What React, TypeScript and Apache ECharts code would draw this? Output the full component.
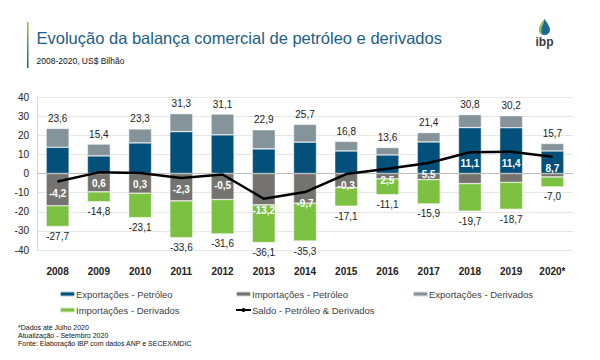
import React, { useEffect, useRef } from "react";
import * as echarts from "echarts";

const years = ["2008", "2009", "2010", "2011", "2012", "2013", "2014", "2015", "2016", "2017", "2018", "2019", "2020*"];
const expPetroleo = [13.7, 9.2, 16.0, 21.9, 20.2, 12.9, 16.4, 11.8, 9.7, 16.5, 24.0, 23.9, 11.8];
const expDerivados = [9.9, 6.2, 7.3, 9.4, 10.9, 10.0, 9.3, 5.0, 3.9, 4.9, 6.8, 6.3, 3.9];
const impPetroleo = [-16.9, -9.6, -10.3, -14.3, -13.6, -16.4, -15.5, -7.4, -2.8, -3.2, -5.3, -4.6, -1.8];
const impDerivados = [-10.8, -5.2, -12.8, -19.3, -18.0, -19.7, -19.8, -9.7, -8.3, -12.7, -14.4, -14.1, -5.2];
const saldo = [-4.2, 0.6, 0.3, -2.3, -0.5, -13.2, -9.7, -0.3, 2.5, 5.5, 11.1, 11.4, 8.7];
const expTotalLabels = [23.6, 15.4, 23.3, 31.3, 31.1, 22.9, 25.7, 16.8, 13.6, 21.4, 30.8, 30.2, 15.7];
const impTotalLabels = [-27.7, -14.8, -23.1, -33.6, -31.6, -36.1, -35.3, -17.1, -11.1, -15.9, -19.7, -18.7, -7.0];
const yTicks = { min: -40, max: 40, interval: 10 };

const fmt = (v: number) => v.toFixed(1).replace(".", ",");
const SANS = "'Liberation Sans', Arial, sans-serif";

const C_EXP_P = "#03507a";
const C_EXP_D = "#84949a";
const C_IMP_P = "#74736f";
const C_IMP_D = "#7dc142";
const TITLE_C = "#1b5e86";

const DROP = "M6 0 C6 0 0 8 0 12 A6 6 0 0 0 12 12 C12 8 6 0 6 0 Z";
const CRESCENT = "M6 0 C6 0 0 8 0 12 C0 15 2 17.5 5 18 C2.5 16 2 13 3 10 C4 7 6 3 6 0 Z";

export default function App() {
  const ref = useRef<HTMLDivElement>(null);
  useEffect(() => {
    if (!ref.current) return;
    try {
      echarts.graphic.registerShape("drop", echarts.graphic.extendPath(DROP, {}) as any);
      echarts.graphic.registerShape("crescent", echarts.graphic.extendPath(CRESCENT, {}) as any);
    } catch (e) {}
    const chart = echarts.init(ref.current, undefined, { renderer: "svg" });
    const legendCommon = {
      itemWidth: 15,
      itemHeight: 5,
      padding: 0,
      selectedMode: false,
      textStyle: { fontSize: 9.5, color: "#404040", fontFamily: SANS, padding: [0, 0, 0, -4] },
    };
    const barCommon = {
      type: "bar",
      stack: "total",
      barWidth: 23,
      itemStyle: { borderColor: "rgba(255,255,255,0.7)", borderWidth: 0.6 },
    };
    chart.setOption({
      animation: false,
      backgroundColor: "#fff",
      grid: { left: 37, top: 97, width: 536, height: 153 },
      legend: [
        { ...legendCommon, data: ["Exportações - Petróleo"], left: 59, top: 289 },
        { ...legendCommon, data: ["Importações - Petróleo"], left: 235, top: 289 },
        { ...legendCommon, data: ["Exportações - Derivados"], left: 412, top: 289 },
        { ...legendCommon, data: ["Importações - Derivados"], left: 59, top: 305 },
        { ...legendCommon, data: ["Saldo - Petróleo & Derivados"], left: 235, top: 305 },
      ],
      xAxis: {
        type: "category",
        data: years,
        axisLine: { show: false, onZero: false },
        axisTick: { show: false },
        axisLabel: { fontSize: 10, fontWeight: "bold", color: "#222", fontFamily: SANS, margin: 16 },
      },
      yAxis: {
        type: "value",
        min: yTicks.min,
        max: yTicks.max,
        interval: yTicks.interval,
        axisLine: { show: true, lineStyle: { color: "#d9d9d9" } },
        axisTick: { show: false },
        splitLine: { lineStyle: { color: "#e6e6e6" } },
        axisLabel: { fontSize: 10, color: "#222", fontFamily: SANS, margin: 8 },
      },
      series: [
        {
          ...barCommon,
          name: "Exportações - Petróleo",
          data: expPetroleo,
          itemStyle: { ...barCommon.itemStyle, color: C_EXP_P },
          markLine: {
            silent: true,
            symbol: "none",
            label: { show: false },
            lineStyle: { color: "#bdbdbd", width: 1, type: "solid" },
            data: [{ yAxis: 0 }],
          },
        },
        {
          ...barCommon,
          name: "Importações - Petróleo",
          data: impPetroleo,
          itemStyle: { ...barCommon.itemStyle, color: C_IMP_P },
        },
        {
          ...barCommon,
          name: "Exportações - Derivados",
          data: expDerivados,
          itemStyle: { ...barCommon.itemStyle, color: C_EXP_D },
          label: {
            show: true,
            position: "top",
            distance: 5,
            fontSize: 10,
            color: "#222",
            fontFamily: SANS,
            formatter: (p: any) => fmt(expTotalLabels[p.dataIndex]),
          },
        },
        {
          ...barCommon,
          name: "Importações - Derivados",
          data: impDerivados,
          itemStyle: { ...barCommon.itemStyle, color: C_IMP_D },
          label: {
            show: true,
            position: "bottom",
            distance: 5,
            fontSize: 10,
            color: "#222",
            fontFamily: SANS,
            formatter: (p: any) => fmt(impTotalLabels[p.dataIndex]),
          },
        },
        {
          type: "line",
          name: "Saldo - Petróleo & Derivados",
          data: saldo,
          symbol: "circle",
          symbolSize: 1,
          showSymbol: true,
          z: 5,
          lineStyle: { color: "#000", width: 2.5 },
          itemStyle: { color: "#000" },
          label: {
            show: true,
            position: "bottom",
            distance: 6,
            fontSize: 10,
            fontWeight: "bold",
            color: "#fff",
            textBorderWidth: 0,
            textBorderColor: "transparent",
            fontFamily: SANS,
            formatter: (p: any) => fmt(saldo[p.dataIndex]),
          },
        },
      ],
      graphic: [
        {
          type: "rect",
          shape: { x: 27, y: 22, width: 1.5, height: 46 },
          style: {
            fill: new echarts.graphic.LinearGradient(0, 0, 0, 1, [
              { offset: 0, color: "#8dc63f" },
              { offset: 1, color: TITLE_C },
            ]),
          },
        },
        {
          type: "text",
          x: 36.5,
          y: 37.5,
          style: {
            text: "Evolução da balança comercial de petróleo e derivados",
            font: `16.5px ${SANS}`,
            fill: TITLE_C,
            verticalAlign: "middle",
          },
        },
        {
          type: "text",
          x: 36.5,
          y: 60.5,
          style: {
            text: "2008-2020, US$ Bilhão",
            font: `8.5px ${SANS}`,
            fill: "#111",
            verticalAlign: "middle",
          },
        },
        {
          type: "text",
          x: 18,
          y: 327,
          style: {
            text: "*Dados até Julho 2020",
            font: `7px ${SANS}`,
            fill: "#111",
            verticalAlign: "middle",
          },
        },
        {
          type: "text",
          x: 18,
          y: 335,
          style: {
            text: "Atualização - Setembro 2020",
            font: `7px ${SANS}`,
            fill: "#111",
            verticalAlign: "middle",
          },
        },
        {
          type: "text",
          x: 18,
          y: 343,
          style: {
            text: "Fonte: Elaboração IBP com dados ANP e SECEX/MDIC",
            font: `7px ${SANS}`,
            fill: "#111",
            verticalAlign: "middle",
          },
        },
        {
          type: "drop",
          x: 539,
          y: 19,
          scaleX: 11 / 12,
          scaleY: 16 / 18,
          style: { fill: "#1a6a9a" },
        },
        {
          type: "crescent",
          x: 539,
          y: 19,
          scaleX: 11 / 12,
          scaleY: 16 / 18,
          style: { fill: "#8dc63f" },
        },
        {
          type: "text",
          x: 544.5,
          y: 42,
          style: {
            text: "ibp",
            font: `bold 12px ${SANS}`,
            fill: "#3a3a3a",
            align: "center",
            verticalAlign: "middle",
          },
        },
      ],
    });
    return () => chart.dispose();
  }, []);
  return (
    <div
      ref={ref}
      style={{ position: "absolute", left: 0, top: 0, width: 600, height: 360, background: "#fff" }}
    />
  );
}
